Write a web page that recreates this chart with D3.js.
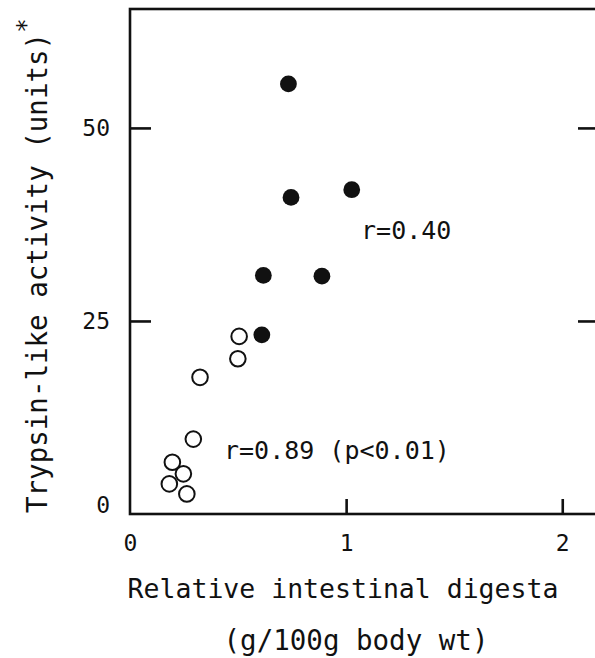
<!DOCTYPE html>
<html>
<head>
<meta charset="utf-8">
<script src="https://cdn.jsdelivr.net/npm/d3@7"></script>
<style>
  body { margin: 0; background: #fff; }
  svg text { font-family: "DejaVu Sans Mono", monospace; fill: #111; }
</style>
</head>
<body>
<svg id="chart" width="595" height="658"></svg>
<script>
// open circles: relative digesta (g/100g) vs trypsin-like activity
let openX = [0.505, 0.499, 0.324, 0.293, 0.196, 0.247, 0.182, 0.263];
let openY = [23.0, 20.1, 17.7, 9.7, 6.7, 5.2, 3.9, 2.6];
// filled circles
let filledX = [0.733, 0.745, 1.026, 0.617, 0.888, 0.610];
let filledY = [55.7, 41.0, 42.0, 30.9, 30.8, 23.2];

let xTicks = [0, 1, 2];
let yTicks = [0, 25, 50];
let notes = [
  {text: "r=0.40", x: 1.069, y: 35.6},
  {text: "r=0.89 (p<0.01)", x: 0.435, y: 7.1}
];

let svg = d3.select("#chart");
let ink = "#111";

let x = d3.scaleLinear().domain([0, 2.17]).range([130, 599]);
let y = d3.scaleLinear().domain([0, 65.4]).range([514, 9]);

// frame
svg.append("rect")
  .attr("x", x(0)).attr("y", y(65.4))
  .attr("width", x(2.17) - x(0)).attr("height", y(0) - y(65.4))
  .attr("fill", "none").attr("stroke", ink).attr("stroke-width", 2.6);

let yAxis = svg.append("g")
  .attr("transform", `translate(${x(0)},0)`)
  .call(d3.axisLeft(y).tickValues(yTicks).tickSizeInner(-21).tickSizeOuter(0).tickPadding(20).tickFormat(d3.format("d")));
yAxis.select(".domain").remove();
yAxis.selectAll("line").attr("stroke", ink).attr("stroke-width", 2.6);
yAxis.selectAll("text").style("font-size", "23px").attr("font-family", null)
  .attr("dy", d => d === 0 ? "-0.05em" : "0.32em");
yAxis.selectAll(".tick").filter(d => d === 0).select("line").remove();

let yAxisR = svg.append("g")
  .attr("transform", `translate(${x(2.17)},0)`)
  .call(d3.axisRight(y).tickValues(yTicks.slice(1)).tickSizeInner(-21).tickSizeOuter(0).tickFormat(""));
yAxisR.select(".domain").remove();
yAxisR.selectAll("line").attr("stroke", ink).attr("stroke-width", 2.6);

let xAxis = svg.append("g")
  .attr("transform", `translate(0,${y(0)})`)
  .call(d3.axisBottom(x).tickValues(xTicks).tickSizeInner(-15).tickSizeOuter(0).tickPadding(21).tickFormat(d3.format("d")));
xAxis.select(".domain").remove();
xAxis.selectAll("line").attr("stroke", ink).attr("stroke-width", 2.6);
xAxis.selectAll(".tick").filter(d => d === 0).select("line").remove();
xAxis.selectAll("text").style("font-size", "23px").attr("font-family", null);

// points
svg.append("g").selectAll("circle")
  .data(d3.zip(openX, openY))
  .join("circle")
  .attr("cx", d => x(d[0])).attr("cy", d => y(d[1]))
  .attr("r", 7.8)
  .attr("fill", "#fff").attr("stroke", ink).attr("stroke-width", 2);

svg.append("g").selectAll("circle")
  .data(d3.zip(filledX, filledY))
  .join("circle")
  .attr("cx", d => x(d[0])).attr("cy", d => y(d[1]))
  .attr("r", 8.4)
  .attr("fill", ink);

// r annotations
svg.append("g").selectAll("text")
  .data(notes)
  .join("text")
  .attr("x", d => x(d.x)).attr("y", d => y(d.y))
  .style("font-size", "25px")
  .text(d => d.text);

// axis titles
svg.append("text")
  .attr("x", 343).attr("y", 598)
  .attr("text-anchor", "middle")
  .style("font-size", "26.5px")
  .text("Relative intestinal digesta");
svg.append("text")
  .attr("x", 356).attr("y", 650)
  .attr("text-anchor", "middle")
  .style("font-size", "27.5px")
  .text("(g/100g body wt)");

let yt = svg.append("text")
  .attr("transform", "translate(47,513) rotate(-90)")
  .attr("text-anchor", "start")
  .style("font-size", "27.5px");
yt.append("tspan").text("Trypsin-like activity (units)");
yt.append("tspan").attr("dy", "-0.55em").style("font-size", "24px").text("*");
</script>
</body>
</html>
